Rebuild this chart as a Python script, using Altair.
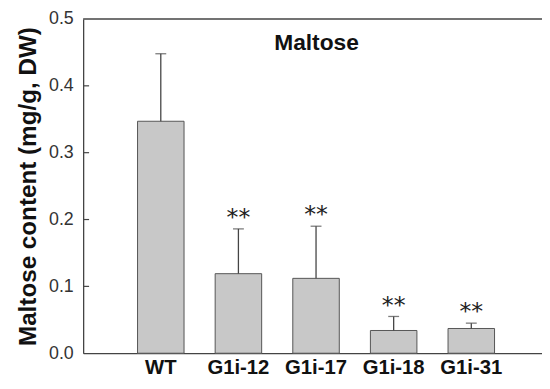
import altair as alt
import pandas as pd

genotypes = ["WT", "G1i-12", "G1i-17", "G1i-18", "G1i-31"]
means = [0.347, 0.119, 0.112, 0.034, 0.037]
errors = [0.101, 0.067, 0.078, 0.021, 0.008]
marks = ["", "**", "**", "**", "**"]
y_ticks = [0.0, 0.1, 0.2, 0.3, 0.4, 0.5]
inner_ticks = [0.1, 0.2, 0.3, 0.4]

df = pd.DataFrame({
    "genotype": genotypes,
    "mean": means,
    "err": errors,
    "mark": marks,
})
df["top"] = df["mean"] + df["err"]

xscale = alt.Scale(domain=genotypes, paddingInner=0.401, paddingOuter=0.656, align=0.534)
yscale = alt.Scale(domain=[0, 0.5], nice=False, zero=True)

x = alt.X("genotype:N", scale=xscale, sort=genotypes, title=None,
          axis=alt.Axis(labelAngle=0, ticks=False, labelFont="Liberation Sans",
                        labelFontWeight="bold", labelFontSize=20.5, labelColor="#111",
                        labelPadding=5, domainColor="#444", domainWidth=1.3))

base = alt.Chart(df)

bars = base.mark_bar(color="#c8c8c8", stroke="#555", strokeWidth=1).encode(
    x=x,
    y=alt.Y("mean:Q", scale=yscale,
            title="Maltose content (mg/g, DW)",
            axis=alt.Axis(values=y_ticks, format=".1f", ticks=False, grid=False,
                          labelFont="Liberation Sans", labelFontSize=18, labelColor="#333",
                          labelPadding=10, titleFont="Liberation Sans", titleFontSize=24.5,
                          titleFontWeight="bold", titleColor="#111", titlePadding=8,
                          domainColor="#444", domainWidth=1.3)),
)

err_line = base.mark_rule(color="#444", strokeWidth=1.3).encode(
    x=alt.X("genotype:N", scale=xscale, sort=genotypes),
    y=alt.Y("mean:Q", scale=yscale),
    y2="top:Q",
)

err_cap = base.mark_tick(color="#444", thickness=1.3, size=11, orient="horizontal").encode(
    x=alt.X("genotype:N", scale=xscale, sort=genotypes),
    y=alt.Y("top:Q", scale=yscale),
)

stars = base.mark_text(font="DejaVu Sans", fontSize=24, color="#222", baseline="alphabetic", dy=-4).encode(
    x=alt.X("genotype:N", scale=xscale, sort=genotypes),
    y=alt.Y("top:Q", scale=yscale),
    text="mark:N",
)

tick_df = pd.DataFrame({"v": inner_ticks})
ticks = alt.Chart(tick_df).mark_rule(color="#444", strokeWidth=1.2).encode(
    y=alt.Y("v:Q", scale=yscale),
    x=alt.value(0),
    x2=alt.value(6),
)

top_line = alt.Chart(pd.DataFrame({"v": [0.5]})).mark_rule(color="#444", strokeWidth=1.3).encode(
    y=alt.Y("v:Q", scale=yscale),
)

chart = alt.layer(bars, err_line, err_cap, stars, ticks, top_line).properties(
    width=464,
    height=338,
    title=alt.TitleParams("Maltose", font="Liberation Sans", fontSize=23, fontWeight="bold",
                          color="#111", anchor="middle", orient="top", baseline="middle",
                          dy=56, dx=4, offset=0),
    autosize=alt.AutoSizeParams(type="none"),
    padding={"left": 76, "top": 9, "right": 0, "bottom": 28},
).configure_view(stroke=None).configure_axis(grid=False)

chart.save("out.html", embed_options={"renderer": "svg", "actions": False})
